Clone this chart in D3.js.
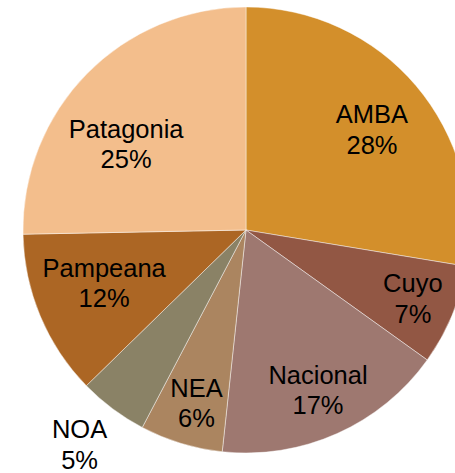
<!DOCTYPE html>
<html>
<head>
<meta charset="utf-8">
<script src="https://cdn.jsdelivr.net/npm/d3@7"></script>
<style>
  html, body { margin: 0; padding: 0; background: #fff; overflow: hidden; }
  text { font-family: "Liberation Sans", Arial, sans-serif; fill: #000; }
</style>
</head>
<body>
<svg id="chart"></svg>
<script>
var regions = ["AMBA", "Cuyo", "Nacional", "NEA", "NOA", "Pampeana", "Patagonia"];
var shares = [27.6, 7.3, 16.8, 6.0, 5.0, 12.0, 25.3];
var pctLabels = ["28%", "7%", "17%", "6%", "5%", "12%", "25%"];
var colors = ["#d38f2b", "#925744", "#9e7870", "#ab8560", "#8a8266", "#ac6624", "#f3be8c"];

// label placement (fraction of radius, angle nudge in degrees)
var labelRadius = [0.72, 0.81, 0.79, 0.81, 1.22, 0.68, 0.66];
var labelNudge = [2, 0, 0, -1, 1, 2, -9];

var width = 455, height = 473,
    cx = 246, cy = 230, radius = 223,
    fontSize = 25.5, lineGap = 30.5;

var data = regions.map(function(d, i) {
  return {region: d, value: shares[i], pct: pctLabels[i], i: i};
});

var svg = d3.select("#chart")
    .attr("width", width)
    .attr("height", height);

var g = svg.append("g")
    .attr("transform", "translate(" + cx + "," + cy + ")");

var pie = d3.pie()
    .sort(null)
    .value(function(d) { return d.value; });

var arc = d3.arc()
    .innerRadius(0)
    .outerRadius(radius);

var arcs = pie(data);

g.selectAll(".slice")
    .data(arcs)
  .enter().append("path")
    .attr("class", "slice")
    .attr("d", arc)
    .style("fill", function(d) { return colors[d.data.i]; })
    .style("stroke", "#ffffff")
    .style("stroke-opacity", 0.55)
    .style("stroke-width", 0.8);

var labels = g.selectAll(".lbl")
    .data(arcs)
  .enter().append("text")
    .attr("class", "lbl")
    .attr("text-anchor", "middle")
    .style("font-size", fontSize + "px")
    .attr("transform", function(d) {
      var i = d.data.i;
      var a = (d.startAngle + d.endAngle) / 2 + labelNudge[i] * Math.PI / 180;
      var r = radius * labelRadius[i];
      return "translate(" + (Math.sin(a) * r) + "," + (-Math.cos(a) * r) + ")";
    });

labels.append("tspan")
    .attr("x", 0)
    .attr("y", -7)
    .text(function(d) { return d.data.region; });

labels.append("tspan")
    .attr("x", 0)
    .attr("y", -7 + lineGap)
    .text(function(d) { return d.data.pct; });
</script>
</body>
</html>
